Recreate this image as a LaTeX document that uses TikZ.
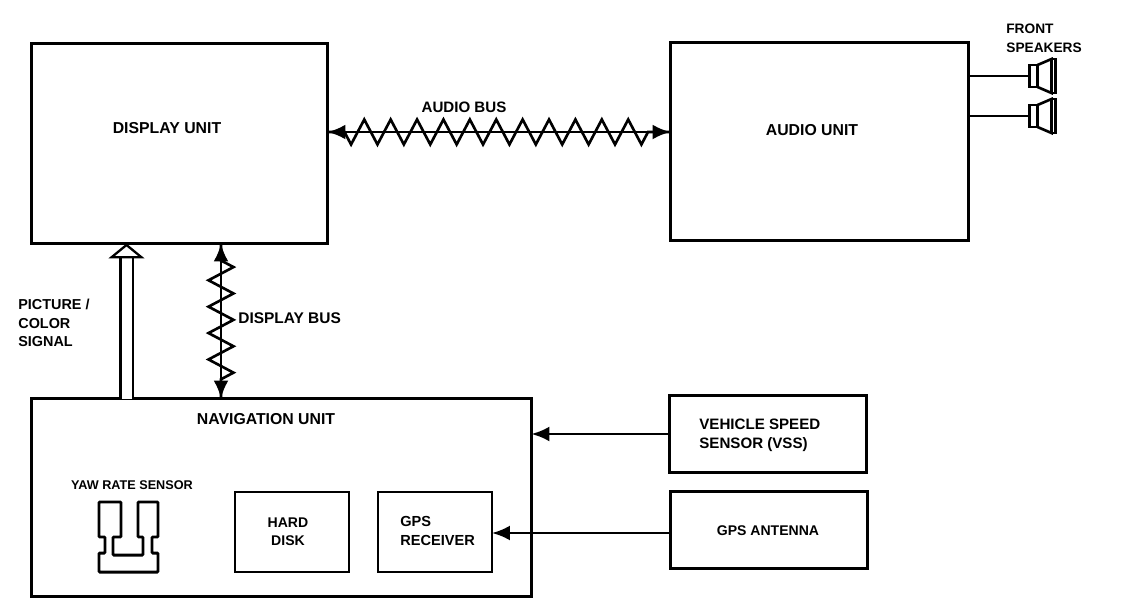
\documentclass[tikz,border=0pt]{standalone}
\usepackage{fontspec}
\setmainfont{Liberation Sans}
\usetikzlibrary{arrows.meta, decorations.pathmorphing, positioning}
\tikzset{
    unitbox/.style={rectangle, draw=black, line width=1.6pt, fill=none, inner sep=0pt, outer sep=0pt},
    lbl/.style={font=\fontsize{9}{10.4}\selectfont\bfseries, align=left, inner sep=0pt},
    smalllbl/.style={lbl, font=\fontsize{8.2}{10.4}\selectfont\bfseries},
    arrow/.style={-{Latex[length=0.36cm, width=0.3cm]}, line width=1.5pt},
    busline/.style={{Latex[length=0.36cm, width=0.3cm]}-{Latex[length=0.36cm, width=0.3cm]}, line width=1.7pt},
    zigzagline/.style={line width=1.5pt, decorate,
                       decoration={zigzag, segment length=0.528cm, amplitude=0.25cm}},
    sigarrow/.style={line width=1.3pt, double, double distance=0.2cm,
                     -{Triangle[open, length=0.3cm, width=0.72cm, line width=1.3pt]}},
}
\begin{document}
\begin{tikzpicture}[x=0.02cm, y=-0.02cm]
    \useasboundingbox (0,0) rectangle (1136,612);
    % main units
    \node[unitbox, minimum width=5.92cm, minimum height=4cm] (display) at (179.5,143.5) {};
    \node[unitbox, minimum width=5.96cm, minimum height=3.96cm] (audio) at (819.5,141.5) {};
    \node[unitbox, minimum width=10cm, minimum height=3.96cm] (nav) at (281.5,497.5) {};
    \node[unitbox, minimum width=3.94cm, minimum height=1.54cm] (vss) at (768,434) {};
    \node[unitbox, minimum width=3.94cm, minimum height=1.54cm] (antenna) at (769,530) {};
    \node[unitbox, line width=1.5pt, minimum width=2.28cm, minimum height=1.6cm] (disk) at (292,532) {};
    \node[unitbox, line width=1.5pt, minimum width=2.28cm, minimum height=1.6cm] (receiver) at (435,532) {};
    % labels
    \node[lbl] (displaylbl) at (167,128) {DISPLAY UNIT};
    \node[lbl] (audiolbl) at (812,130) {AUDIO UNIT};
    \node[lbl] (navlbl) at (266,419) {NAVIGATION UNIT};
    \node[lbl, font=\fontsize{8.6}{10.4}\selectfont\bfseries] (audiobus) at (464,107) {AUDIO BUS};
    \node[lbl, font=\fontsize{8.8}{10.4}\selectfont\bfseries, anchor=west] (displaybus) at (238,318) {DISPLAY BUS};
    \node[smalllbl, anchor=north west] (picture) at (18,299) {PICTURE /\\COLOR\\SIGNAL};
    \node[lbl, font=\fontsize{7.8}{10.4}\selectfont\bfseries, anchor=north west] (front) at (1006,24) {FRONT\\SPEAKERS};
    \node[lbl, font=\fontsize{8.6}{10.4}\selectfont\bfseries, anchor=north west] (vsslbl) at (699,419) {VEHICLE SPEED\\SENSOR (VSS)};
    \node[lbl, font=\fontsize{8}{10.4}\selectfont\bfseries] (antennalbl) at (768,531) {GPS ANTENNA};
    \node[lbl, font=\fontsize{8}{10.4}\selectfont\bfseries, align=center] (disklbl) at (288,532) {HARD\\DISK};
    \node[lbl, font=\fontsize{8.3}{10.4}\selectfont\bfseries, anchor=west] (receiverlbl) at (400,531) {GPS\\RECEIVER};
    \node[lbl, font=\fontsize{7.2}{9}\selectfont\bfseries] (yawlbl) at (132,485) {YAW RATE SENSOR};
    % buses
    \draw[busline] (display.east |- 0,132) -- (audio.west |- 0,132);
    \draw[zigzagline, decoration={mirror, pre length=0.34cm, post length=0.36cm}]
        (display.east |- 0,132) -- (audio.west |- 0,132);
    \draw[busline] (221,0 |- display.south) -- (221,0 |- nav.north);
    \draw[zigzagline, decoration={pre length=0.34cm, post length=0.3cm}]
        (221,0 |- display.south) -- (221,0 |- nav.north);
    \draw[sigarrow] (126.5,0 |- nav.north) -- (126.5,0 |- display.south);
    % inputs
    \draw[arrow] (vss.west) -- (nav.east |- vss.west);
    \draw[arrow] (antenna.west |- 0,533) -- (receiver.east |- 0,533);
    % speakers
    \foreach \spk/\yy in {front/76, rear/116} {
        \node[unitbox, line width=1.5pt, minimum width=0.16cm, minimum height=0.44cm] (\spk) at (1033.5,\yy) {};
        \draw[line width=1.5pt] (audio.east |- \spk.west) -- (\spk.west);
        \draw[line width=1.5pt] (\spk.north east) -- ++(14,-6) -- ++(0,34) -- (\spk.south east);
        \draw[line width=1.5pt] ([xshift=0.28cm, yshift=0.12cm]\spk.north east) rectangle ([xshift=0.36cm, yshift=-0.12cm]\spk.south east);
    }
    % yaw rate sensor
    \draw[line width=1.7pt, rounded corners=0.5pt] (99,502) -- (121,502) -- (121,537) -- (113,537) -- (113,555)
        -- (143,555) -- (143,537) -- (138,537) -- (138,502) -- (158,502) -- (158,537) -- (152,537)
        -- (152,553) -- (158,553) -- (158,572) -- (99,572) -- (99,553) -- (105,553) -- (105,537)
        -- (99,537) -- cycle;
\end{tikzpicture}
\end{document}
